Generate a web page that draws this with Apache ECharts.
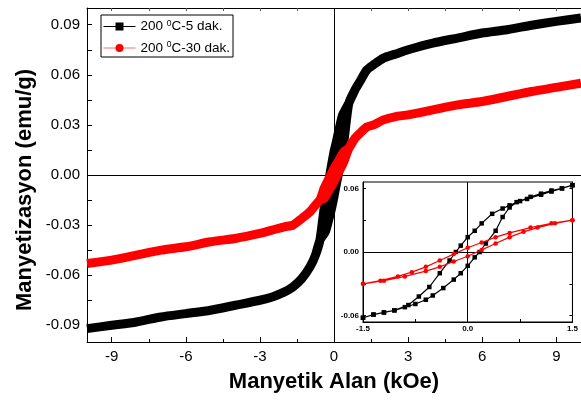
<!DOCTYPE html>
<html>
<head>
<meta charset="utf-8">
<script src="https://cdn.jsdelivr.net/npm/echarts@6/dist/echarts.min.js"></script>
<style>
    html, body { margin: 0; padding: 0; background: #fff; }
    #chart { width: 581px; height: 403px; }
</style>
</head>
<body>
<div id="chart"></div>
<script>
// ana grafik, |H| >= 2 kOe
var fieldNeg = [-10, -9, -8, -7, -6, -5, -4, -3, -2.5, -2];
var fieldPos = [2, 2.5, 3, 4, 5, 6, 7, 8, 9, 10];
var dak5Neg = [-0.092, -0.090, -0.088, -0.085, -0.083, -0.081, -0.078, -0.075, -0.073, -0.070];
var dak5Pos = [0.070, 0.0725, 0.075, 0.079, 0.082, 0.085, 0.087, 0.0897, 0.092, 0.094];
var dak30Neg = [-0.053, -0.051, -0.048, -0.045, -0.043, -0.040, -0.038, -0.035, -0.033, -0.031];
var dak30Pos = [0.033, 0.035, 0.036, 0.039, 0.042, 0.044, 0.047, 0.050, 0.0525, 0.055];

// ana grafik, diz bolgesi
var kneeNegField = [-1.66, -1.3, -0.97, -0.75, -0.57];
var kneePosField = [0.6, 0.85, 1.05, 1.32, 1.6];
var dak5KneeNeg = [-0.067, -0.062, -0.055, -0.048, -0.039];
var dak5KneePos = [0.043, 0.051, 0.056, 0.0628, 0.066];
var dak30KneeNeg = [-0.030, -0.026, -0.022, -0.018, -0.015];
var dak30KneePos = [0.016, 0.022, 0.025, 0.0287, 0.030];

// histerezis (icteki grafik), -1.5 .. 1.5 kOe
var dak5DownField = [1.5, 1.35, 1.2, 1.05, 0.9, 0.75, 0.6, 0.5, 0.35, 0.2, 0.1, 0, -0.1, -0.17, -0.26, -0.4, -0.55, -0.7, -0.85, -1.05, -1.2, -1.35, -1.5];
var dak5Down = [0.063, 0.060, 0.058, 0.055, 0.052, 0.048, 0.044, 0.041, 0.036, 0.027, 0.020, 0.014, 0.006, 0.000, -0.008, -0.020, -0.033, -0.042, -0.050, -0.055, -0.057, -0.059, -0.062];
var dak5UpField = [-1.5, -1.35, -1.2, -1.05, -0.9, -0.75, -0.6, -0.5, -0.35, -0.2, -0.1, 0, 0.1, 0.17, 0.26, 0.4, 0.5, 0.6, 0.7, 0.85, 1.05, 1.2, 1.35, 1.5];
var dak5Up = [-0.062, -0.059, -0.057, -0.055, -0.052, -0.049, -0.045, -0.041, -0.034, -0.026, -0.020, -0.013, -0.005, 0.000, 0.008, 0.020, 0.033, 0.042, 0.047, 0.050, 0.054, 0.057, 0.060, 0.063];
var dak30DownField = [1.5, 1.2, 0.9, 0.6, 0.4, 0.2, 0, -0.2, -0.4, -0.6, -0.8, -1.0, -1.25, -1.5];
var dak30Down = [0.030, 0.027, 0.023, 0.018, 0.014, 0.009, 0.004, -0.002, -0.008, -0.014, -0.019, -0.023, -0.027, -0.030];
var dak30UpField = [-1.5, -1.2, -0.9, -0.6, -0.4, -0.2, 0, 0.2, 0.4, 0.6, 0.8, 1.0, 1.25, 1.5];
var dak30Up = [-0.030, -0.027, -0.023, -0.018, -0.014, -0.009, -0.004, 0.002, 0.008, 0.014, 0.019, 0.023, 0.027, 0.030];

var seriesNames = ['200 °C-5 dak.', '200 °C-30 dak.'];
var xLabels = [-9, -6, -3, 0, 3, 6, 9];
var xMinor = [-7.5, -4.5, -1.5, 1.5, 4.5, 7.5];
var xTop = [-9, -7.5, -6, -4.5, -3, -1.5, 0, 1.5, 3, 4.5, 6, 7.5, 9];
var yLabels = [-0.09, -0.06, -0.03, 0, 0.03, 0.06, 0.09];
var yTicks = [-0.09, -0.075, -0.06, -0.045, -0.03, -0.015, 0, 0.015, 0.03, 0.045, 0.06, 0.075, 0.09];
var insetXLabels = [-1.5, 0, 1.5];
var insetXTicks = [-1.5, -0.75, 0, 0.75, 1.5];
var insetYLabels = [-0.06, 0, 0.06];
var insetYTicks = [-0.06, -0.03, 0, 0.03, 0.06];

function pairs(xs, ys) {
    return xs.map(function (x, i) { return [x, ys[i]]; });
}

function middle(xs, ys, limit) {
    return pairs(xs, ys).filter(function (p) { return Math.abs(p[0]) <= limit; });
}

// tam dongu: +10 -> -10 -> +10
function fullLoop(c) {
    var down = pairs(c.posX, c.posY).reverse()
        .concat(pairs(c.kneePosX, c.kneePosY).reverse())
        .concat(middle(c.downX, c.downY, c.limit))
        .concat(pairs(c.kneeNegX, c.kneeNegY).reverse())
        .concat(pairs(c.negX, c.negY).reverse());
    var up = pairs(c.negX, c.negY)
        .concat(pairs(c.kneeNegX, c.kneeNegY))
        .concat(middle(c.upX, c.upY, c.limit))
        .concat(pairs(c.kneePosX, c.kneePosY))
        .concat(pairs(c.posX, c.posY));
    return down.concat(up);
}

var dak5Main = fullLoop({
    negX: fieldNeg, negY: dak5Neg, posX: fieldPos, posY: dak5Pos,
    kneeNegX: kneeNegField, kneeNegY: dak5KneeNeg, kneePosX: kneePosField, kneePosY: dak5KneePos,
    downX: dak5DownField, downY: dak5Down, upX: dak5UpField, upY: dak5Up, limit: 0.45
});
var dak30Main = fullLoop({
    negX: fieldNeg, negY: dak30Neg, posX: fieldPos, posY: dak30Pos,
    kneeNegX: kneeNegField, kneeNegY: dak30KneeNeg, kneePosX: kneePosField, kneePosY: dak30KneePos,
    downX: dak30DownField, downY: dak30Down, upX: dak30UpField, upY: dak30Up, limit: 0.45
});

var font = 'Liberation Sans';
var black = '#000';

var myChart = echarts.init(document.getElementById('chart'));
myChart.setOption({
    animation: false,
    graphic: [{
        type: 'text',
        x: 25,
        y: 190,
        rotation: Math.PI / 2,
        style: {
            text: 'Manyetizasyon (emu/g)',
            font: 'bold 22px ' + font,
            fill: black,
            align: 'center',
            verticalAlign: 'middle'
        }
    }],
    legend: {
        data: [
            {name: seriesNames[0]},
            {name: seriesNames[1], lineStyle: {color: '#ff6a6a'}}
        ],
        orient: 'vertical',
        left: 101,
        top: 15,
        itemWidth: 32,
        itemHeight: 10,
        itemGap: 7,
        padding: [4, 3, 2, 2],
        borderColor: black,
        borderWidth: 1,
        lineStyle: {width: 1},
        formatter: function (name) {
            return name.replace('°', '{sup|0}');
        },
        textStyle: {
            fontFamily: font,
            fontSize: 13.5,
            color: black,
            rich: {
                sup: {fontFamily: font, fontSize: 8.5, color: black, verticalAlign: 'top', padding: [0, 0, 6, 0]}
            }
        }
    },
    grid: [
        {left: 87, right: 0, top: 8, bottom: 61},
        {left: 363, right: 8, top: 182, bottom: 81, show: true, backgroundColor: '#fff', borderColor: black, borderWidth: 1, z: 10}
    ],
    xAxis: [
        {
            gridIndex: 0, type: 'value', min: -10, max: 10, position: 'bottom',
            axisLine: {show: true, onZero: false, lineStyle: {color: black, width: 1}},
            axisTick: {inside: true, length: 5, customValues: xLabels, lineStyle: {color: black}},
            axisLabel: {customValues: xLabels, fontFamily: font, fontSize: 15, color: black, margin: 7},
            splitLine: {show: false},
            name: 'Manyetik Alan (kOe)',
            nameLocation: 'middle',
            nameGap: 29,
            nameTextStyle: {fontFamily: font, fontSize: 22, fontWeight: 'bold', color: black}
        },
        {
            gridIndex: 0, type: 'value', min: -10, max: 10, position: 'bottom',
            axisLine: {show: false, onZero: false},
            axisTick: {inside: true, length: 3, customValues: xMinor, lineStyle: {color: black}},
            axisLabel: {show: false},
            splitLine: {show: false}
        },
        {
            gridIndex: 0, type: 'value', min: -10, max: 10, position: 'top',
            axisLine: {show: true, onZero: false, lineStyle: {color: black, width: 1}},
            axisTick: {inside: true, length: 3, customValues: xTop, lineStyle: {color: '#555'}},
            axisLabel: {show: false},
            splitLine: {show: false}
        },
        {
            gridIndex: 1, type: 'value', min: -1.5, max: 1.5, position: 'bottom', z: 12,
            axisLine: {show: true, onZero: false, lineStyle: {color: black, width: 1}},
            axisTick: {inside: true, length: 3, customValues: insetXTicks, lineStyle: {color: black}},
            axisLabel: {
                customValues: insetXLabels, fontFamily: font, fontSize: 8, fontWeight: 'bold', color: black, margin: 3,
                formatter: function (v) { return v.toFixed(1); }
            },
            splitLine: {show: false}
        }
    ],
    yAxis: [
        {
            gridIndex: 0, type: 'value', min: -0.1, max: 0.1, position: 'left',
            axisLine: {show: true, onZero: false, lineStyle: {color: black, width: 1}},
            axisTick: {inside: true, length: 5, customValues: yTicks, lineStyle: {color: black}},
            axisLabel: {
                customValues: yLabels, fontFamily: font, fontSize: 15, color: black, margin: 7,
                formatter: function (v) { return v.toFixed(2); }
            },
            splitLine: {show: false}
        },
        {
            gridIndex: 1, type: 'value', min: -0.066, max: 0.066, position: 'left', z: 12,
            axisLine: {show: true, onZero: false, lineStyle: {color: black, width: 1}},
            axisTick: {inside: true, length: 3, customValues: insetYTicks, lineStyle: {color: black}},
            axisLabel: {
                customValues: insetYLabels, fontFamily: font, fontSize: 8, fontWeight: 'bold', color: black, margin: 4,
                formatter: function (v) { return v.toFixed(2); }
            },
            splitLine: {show: false}
        },
        {
            gridIndex: 1, type: 'value', min: -0.066, max: 0.066, position: 'right', z: 12,
            axisLine: {show: true, onZero: false, lineStyle: {color: black, width: 1}},
            axisTick: {inside: true, length: 3, customValues: insetYTicks, lineStyle: {color: black}},
            axisLabel: {show: false},
            splitLine: {show: false}
        }
    ],
    series: [
        {
            name: seriesNames[0],
            type: 'line',
            xAxisIndex: 0, yAxisIndex: 0,
            data: dak5Main,
            symbol: 'rect', showSymbol: false,
            smooth: 0.2,
            itemStyle: {color: black},
            lineStyle: {color: black, width: 9, join: 'bevel'},
            z: 2, silent: true
        },
        {
            name: seriesNames[1],
            type: 'line',
            xAxisIndex: 0, yAxisIndex: 0,
            data: dak30Main,
            symbol: 'circle', showSymbol: false,
            smooth: 0.2,
            itemStyle: {color: '#ff0000'},
            lineStyle: {color: '#ff0000', width: 9, join: 'bevel'},
            z: 3, silent: true,
            markLine: {
                silent: true, symbol: 'none', z: 1, animation: false,
                label: {show: false},
                lineStyle: {color: black, width: 1, type: 'solid'},
                data: [{xAxis: 0}, {yAxis: 0}]
            }
        },
        {
            name: 'ic-5',
            type: 'line',
            xAxisIndex: 3, yAxisIndex: 1,
            data: pairs(dak5DownField, dak5Down).concat(pairs(dak5UpField, dak5Up)),
            symbol: 'rect', symbolSize: 4.5,
            itemStyle: {color: black},
            lineStyle: {color: black, width: 1.2},
            z: 12, silent: true,
            markLine: {
                silent: true, symbol: 'none', z: 11, animation: false,
                label: {show: false},
                lineStyle: {color: black, width: 1, type: 'solid'},
                data: [{xAxis: 0}, {yAxis: 0}]
            }
        },
        {
            name: 'ic-30',
            type: 'line',
            xAxisIndex: 3, yAxisIndex: 1,
            data: pairs(dak30DownField, dak30Down).concat(pairs(dak30UpField, dak30Up)),
            symbol: 'circle', symbolSize: 4.5,
            itemStyle: {color: '#ff0000'},
            lineStyle: {color: '#ff0000', width: 1.2},
            z: 13, silent: true
        }
    ]
});
</script>
</body>
</html>
